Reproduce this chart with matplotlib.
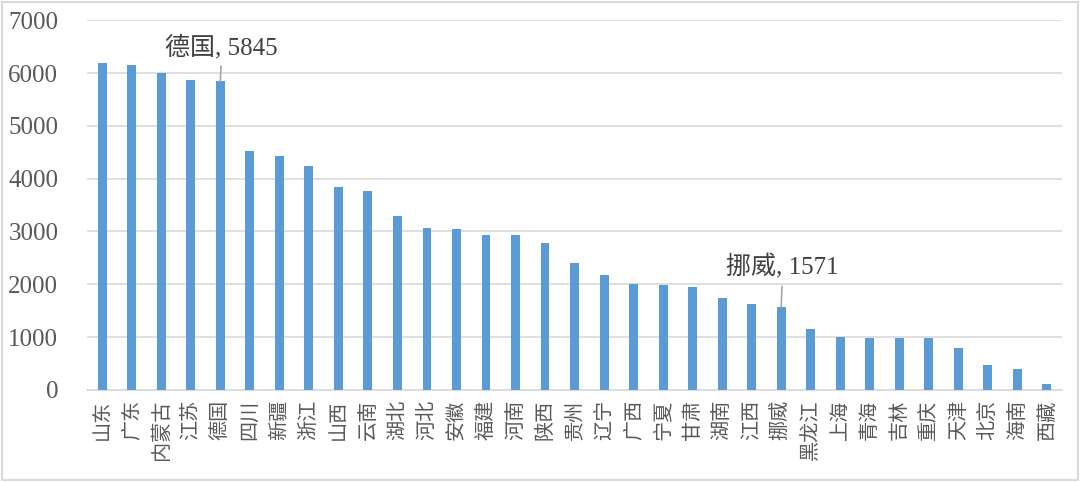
import matplotlib
matplotlib.use("Agg")
import matplotlib.pyplot as plt
from matplotlib.patches import Rectangle

# 各地区数值
regions = ["山东", "广东", "内蒙古", "江苏", "德国", "四川", "新疆", "浙江", "山西", "云南",
           "湖北", "河北", "安徽", "福建", "河南", "陕西", "贵州", "辽宁", "广西", "宁夏",
           "甘肃", "湖南", "江西", "挪威", "黑龙江", "上海", "青海", "吉林", "重庆", "天津",
           "北京", "海南", "西藏"]
values = [6190, 6150, 6000, 5865, 5845, 4520, 4425, 4240, 3840, 3765,
          3290, 3065, 3045, 2930, 2930, 2780, 2400, 2175, 2005, 1985,
          1950, 1745, 1625, 1571, 1148, 1000, 990, 982, 980, 785,
          480, 395, 105]
yticks = [0, 1000, 2000, 3000, 4000, 5000, 6000, 7000]
callouts = [("德国", 6500), ("挪威", 2330)]

plt.rcParams["font.family"] = ["Liberation Serif", "Noto Sans CJK SC"]

fig = plt.figure(figsize=(10.8, 4.82), dpi=100)
ax = fig.add_axes([0.081, 0.191, 0.902, 0.767])

x = list(range(len(regions)))
ax.bar(x, values, width=0.3, color="#5b9bd5", zorder=3)

ax.set_xlim(-0.5, len(regions) - 0.5)
ax.set_ylim(0, 7000)
ax.set_yticks(yticks)
ax.set_yticklabels([str(t) for t in yticks], fontsize=18, color="#595959")
ax.set_xticks(x)
ax.set_xticklabels(regions, rotation=90, fontsize=14.5, color="#595959",
                   family=["Noto Sans CJK SC"])
ax.tick_params(axis="both", length=0)
ax.tick_params(axis="x", pad=7)
ax.tick_params(axis="y", pad=21)
ax.grid(axis="y", color="#d9d9d9", linewidth=1.2, zorder=0)
for side in ("left", "right", "top"):
    ax.spines[side].set_visible(False)
ax.spines["bottom"].set_color("#d9d9d9")
ax.spines["bottom"].set_linewidth(1.2)

for name, text_y in callouts:
    i = regions.index(name)
    ax.annotate(f"{name}, {values[i]}", xy=(i, values[i]), xytext=(i + 0.05, text_y),
                textcoords="data", ha="center", va="center", fontsize=18,
                color="#404040",
                arrowprops=dict(arrowstyle="-", color="#a6a6a6", lw=1.2,
                                shrinkA=3, shrinkB=0))

fig.patches.append(Rectangle((0.002, 0.004), 0.996, 0.992, transform=fig.transFigure,
                             fill=False, edgecolor="#d9d9d9", linewidth=1.5))

fig.savefig("out.png", dpi=100)
